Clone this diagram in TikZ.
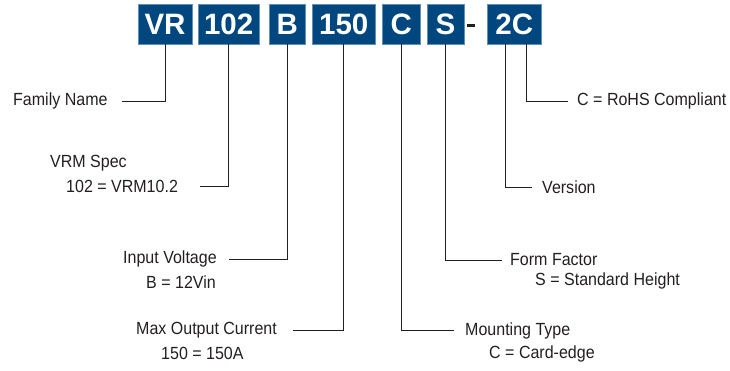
\documentclass[tikz,border=0pt]{standalone}
\usepackage{fontspec}
\setmainfont{Liberation Sans}
\newfontfamily\lblfont[FakeStretch=0.91]{Liberation Sans}
\definecolor{boxblue}{RGB}{0,70,127}
\definecolor{ink}{RGB}{35,31,32}
\begin{document}
\begin{tikzpicture}[x=1pt,y=-1pt,
  codebox/.style={fill=boxblue,draw=boxblue!60!white,line width=0.4pt,text=white,
    font=\fontsize{29.5}{30}\selectfont\bfseries,minimum height=39.5pt,inner sep=0pt,
    anchor=center},
  lbl/.style={anchor=west,inner sep=0pt,text=ink,font=\lblfont\fontsize{17.6}{19}\selectfont},
  conn/.style={draw=ink,line width=0.9pt}]
\useasboundingbox (0,0) rectangle (730,370);
% code boxes
\node[codebox,minimum width=53.4pt] (vr)  at (165,24.2) {VR};
\node[codebox,minimum width=60.7pt] (n102) at (228.7,24.2) {102};
\node[codebox,minimum width=36.7pt] (b)   at (287.3,24.2) {B};
\node[codebox,minimum width=63.7pt] (n150) at (343.8,24.2) {150};
\node[codebox,minimum width=37.3pt] (c)   at (401.3,24.2) {C};
\node[codebox,minimum width=37.6pt] (s)   at (445.5,24.2) {S};
\node[fill=ink,minimum width=7.5pt,minimum height=3pt,inner sep=0pt] (dash) at (471,25.5) {};
\node[codebox,minimum width=53.7pt] (twoc) at (514.2,24.2) {2C};
% labels
\node[lbl] (fam) at (13,101) {Family Name};
\node[lbl] (vrm) at (50,163) {VRM Spec};
\node[lbl] (vrmv) at (66,186) {102 = VRM10.2};
\node[lbl] (inp) at (123,258.5) {Input Voltage};
\node[lbl] (inpv) at (146,282) {B = 12Vin};
\node[lbl] (cur) at (136,330) {Max Output Current};
\node[lbl] (curv) at (161,353) {150 = 150A};
\node[lbl] (rohs) at (577,101) {C = RoHS Compliant};
\node[lbl] (ver) at (542,187) {Version};
\node[lbl] (ff) at (510,259.5) {Form Factor};
\node[lbl] (ffv) at (535,281) {S = Standard Height};
\node[lbl] (mt) at (465,331) {Mounting Type};
\node[lbl] (mtv) at (489,354) {C = Card-edge};
% connector free ends
\coordinate (efam) at (122,101);
\coordinate (evrm) at (200,186);
\coordinate (einp) at (229,259);
\coordinate (ecur) at (293,330);
\coordinate (emt) at (454,330);
\coordinate (eff) at (502,260);
\coordinate (ever) at (532,187);
\coordinate (erohs) at (568,101);
% connectors
\draw[conn] (vr.south) |- (efam);
\draw[conn] (n102.south) |- (evrm);
\draw[conn] (b.south) |- (einp);
\draw[conn] (n150.south) |- (ecur);
\draw[conn] (c.south) |- (emt);
\draw[conn] (s.south) |- (eff);
\draw[conn] ([xshift=-9.2pt]twoc.south) |- (ever);
\draw[conn] ([xshift=11.8pt]twoc.south) |- (erohs);
\end{tikzpicture}
\end{document}
